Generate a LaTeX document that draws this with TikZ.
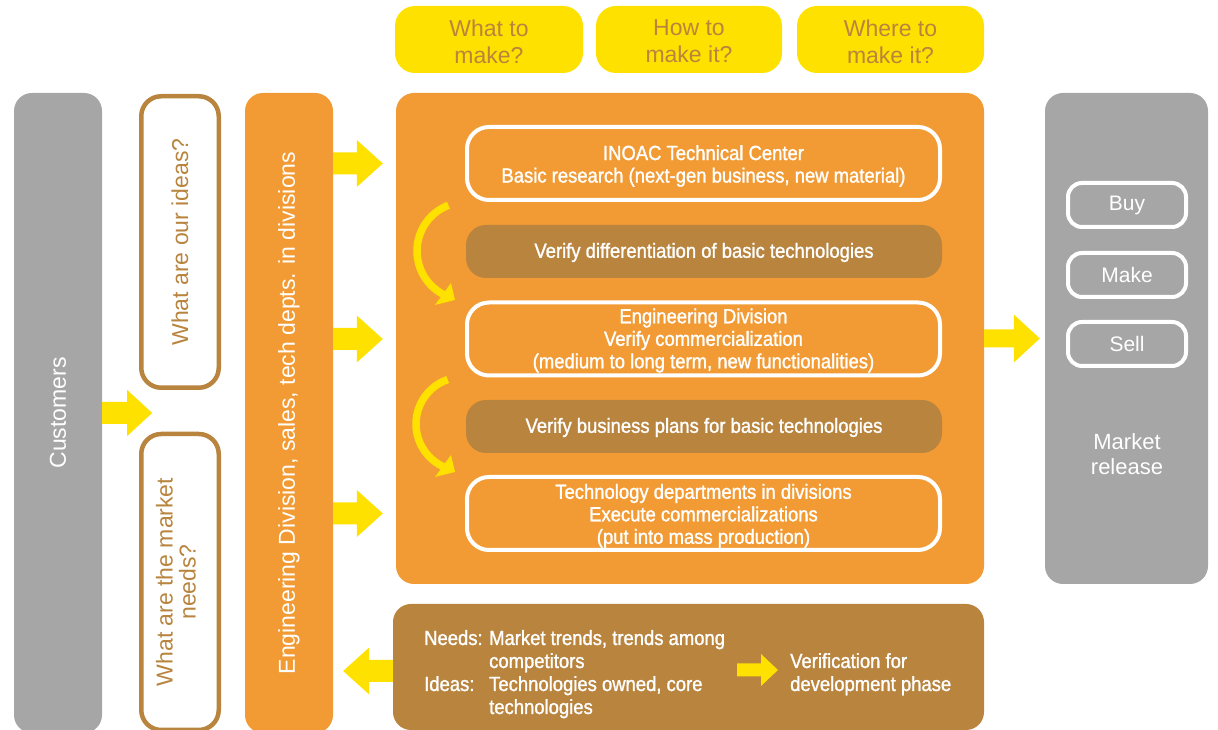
\documentclass[tikz,border=0pt]{standalone}
\usepackage{fontspec}
\setmainfont{Liberation Sans}
\newfontfamily\condfont{Liberation Sans}[FakeStretch=0.9, FakeBold=1.3]
\usetikzlibrary{calc}

\definecolor{inoOrange}{HTML}{F29B34}
\definecolor{inoGray}{HTML}{A5A6A5}
\definecolor{inoYellow}{HTML}{FFE100}
\definecolor{inoBrown}{HTML}{B8843E}

% block arrow: start, tip, half shaft, half head, head length (signed)
\newcommand\fatarrow[5]{%
  \fill[inoYellow] let \p1=(#1), \p2=(#2) in
    (\x1,\y1-#3) -- ({\x2-(#5)},\y1-#3) -- ({\x2-(#5)},\y1-#4) -- (\x2,\y1)
    -- ({\x2-(#5)},\y1+#4) -- ({\x2-(#5)},\y1+#3) -- (\x1,\y1+#3) -- cycle;}

\tikzset{
  question/.style={fill=inoYellow, rounded corners=20pt, minimum height=67pt,
    text=inoBrown, align=center, inner sep=0pt,
    font=\fontsize{23}{27}\selectfont},
  column/.style={rounded corners=18pt, minimum width=88pt, minimum height=640pt,
    inner sep=0pt},
  askbox/.style={draw=inoBrown, line width=4.5pt, fill=white, rounded corners=20pt,
    minimum width=77.5pt, minimum height=291.5pt, inner sep=0pt},
  coltext/.style={rotate=90, align=center, font=\fontsize{23}{23}\selectfont},
  stagebox/.style={draw=white, line width=4pt, rounded corners=22pt,
    minimum width=473pt, minimum height=73pt, inner sep=0pt},
  checkbox/.style={fill=inoBrown, rounded corners=20pt,
    minimum width=476pt, minimum height=53pt, inner sep=0pt},
  innertext/.style={text=white, align=center,
    font=\condfont\fontsize{20.5}{22.5}\selectfont},
  actbox/.style={draw=white, line width=4pt, rounded corners=14pt,
    minimum width=118pt, minimum height=44pt, inner sep=0pt, text=white,
    font=\fontsize{21}{24}\selectfont},
  notetext/.style={text=white, anchor=base west, inner sep=0pt,
    font=\condfont\fontsize{20.5}{23}\selectfont},
  turn/.style={draw=inoYellow, line width=7.5pt},
  turnhead/.style={fill=inoYellow},
}

\begin{document}
\begin{tikzpicture}[x=1pt,y=1pt]
\useasboundingbox (0,0) rectangle (1218,730);

% questions across the top
\node[question, minimum width=188pt] (qwhat)  at (489,690.5)   {};
\node[question, minimum width=186pt] (qhow)   at (689,690.5)   {};
\node[question, minimum width=187pt] (qwhere) at (890.5,690.5) {};
\node[question, fill=none] (qwhattext)  at ([yshift=-2pt]qwhat.center)  {What to\\make?};
\node[question, fill=none] (qhowtext)   at ([yshift=-2pt]qhow.center)   {How to\\make it?};
\node[question, fill=none] (qwheretext) at ([yshift=-2pt]qwhere.center) {Where to\\make it?};

% left-hand columns
\node[column, fill=inoGray] (cust) at (58,317) {};
\node[coltext, text=white] (custtext) at (cust.center) {Customers};

\node[askbox] (ideas) at (180,488) {};
\node[coltext, text=inoBrown] (ideastext) at (ideas.center) {What are our ideas?};

\node[askbox, minimum height=296pt] (needs) at (180,148) {};
\node[coltext, text=inoBrown] (needstext) at ([xshift=-4pt]needs.center) {What are the market\\needs?};

\node[column, fill=inoOrange] (eng) at (289,317) {};
\node[coltext, text=white] (engtext) at (eng.center) {Engineering Division, sales, tech depts. in divisions};

% development flow
\node[fill=inoOrange, rounded corners=18pt, minimum width=588pt, minimum height=491pt,
  inner sep=0pt] (main) at (690,391.5) {};

\node[stagebox] (tc) at (703.5,566.5) {};
\node[innertext] (tctext) at ([yshift=-2.5pt]tc.center) {INOAC Technical Center\\Basic research (next-gen business, new material)};

\node[checkbox] (chk1) at (704,478.5) {};
\node[innertext] (chk1text) at ([yshift=-1pt]chk1.center) {Verify differentiation of basic technologies};

\node[stagebox] (ed) at (703.5,391) {};
\node[innertext] (edtext) at ([yshift=-1.5pt]ed.center) {Engineering Division\\Verify commercialization\\(medium to long term, new functionalities)};

\node[checkbox] (chk2) at (704,303.5) {};
\node[innertext] (chk2text) at ([yshift=-1pt]chk2.center) {Verify business plans for basic technologies};

\node[stagebox] (td) at (703.5,216.5) {};
\node[innertext] (tdtext) at ([yshift=-2.5pt]td.center) {Technology departments in divisions\\Execute commercializations\\(put into mass production)};

% turning arrows between the stages
\coordinate (turn1) at (466,479);
\draw[turn] (turn1) ++(111:49) arc[start angle=111, end angle=243, radius=49];
\fill[turnhead] ($(turn1)+(-11,-49)$) -- ($(turn1)+(-31,-54)$) -- ($(turn1)+(-15,-32)$) -- cycle;
\coordinate (turn2) at (463,306);
\draw[turn] (turn2) ++(109:47) arc[start angle=109, end angle=245, radius=47];
\fill[turnhead] ($(turn2)+(-8,-48)$) -- ($(turn2)+(-28,-53)$) -- ($(turn2)+(-12,-31)$) -- cycle;

% market release
\node[fill=inoGray, rounded corners=18pt, minimum width=163pt, minimum height=491pt,
  inner sep=0pt] (market) at (1126.5,391.5) {};
\node[actbox] (buy)  at (1127,525) {Buy};
\node[actbox] (make) at (1127,455) {Make};
\node[actbox] (sell) at (1127,386) {Sell};
\node[text=white, align=center, font=\fontsize{22}{25}\selectfont] (release)
  at (1127,276) {Market\\release};

% feedback box
\node[fill=inoBrown, rounded corners=18pt, minimum width=591pt, minimum height=126pt,
  inner sep=0pt] (feedback) at (688.5,63) {};
\node[notetext] (needslbl) at (424,85) {Needs:};
\node[notetext] (needsl1)  at (489,85) {Market trends, trends among};
\node[notetext] (needsl2)  at (489,62) {competitors};
\node[notetext] (ideaslbl) at (424,39) {Ideas:};
\node[notetext] (ideasl1)  at (489,39) {Technologies owned, core};
\node[notetext] (ideasl2)  at (489,16) {technologies};
\node[notetext] (verif1)   at (790,62) {Verification for};
\node[notetext] (verif2)   at (790,39) {development phase};

% block arrows
\coordinate (custtip) at ([xshift=50pt]cust.east);
\fatarrow{cust.east}{custtip}{11pt}{23pt}{25pt}

\coordinate (a1s) at (eng.east |- tc.center);
\coordinate (a1t) at ([xshift=-13pt]main.west |- tc.center);
\fatarrow{a1s}{a1t}{11pt}{23.5pt}{26pt}
\coordinate (a2s) at (eng.east |- ed.center);
\coordinate (a2t) at ([xshift=-13pt]main.west |- ed.center);
\fatarrow{a2s}{a2t}{11pt}{23.5pt}{26pt}
\coordinate (a3s) at (eng.east |- td.center);
\coordinate (a3t) at ([xshift=-13pt]main.west |- td.center);
\fatarrow{a3s}{a3t}{11pt}{23.5pt}{26pt}

\coordinate (mtip) at ([xshift=-5pt]market.west |- main.east);
\fatarrow{main.east}{mtip}{9pt}{24pt}{26pt}

\coordinate (fbs) at ([yshift=-4pt]feedback.west);
\coordinate (fbt) at ([xshift=10pt]eng.east |- fbs);
\fatarrow{fbs}{fbt}{11pt}{23.5pt}{-26pt}

\coordinate (vs) at (737,60);
\coordinate (vt) at (778,60);
\fatarrow{vs}{vt}{6.5pt}{16pt}{17pt}
\end{tikzpicture}
\end{document}
